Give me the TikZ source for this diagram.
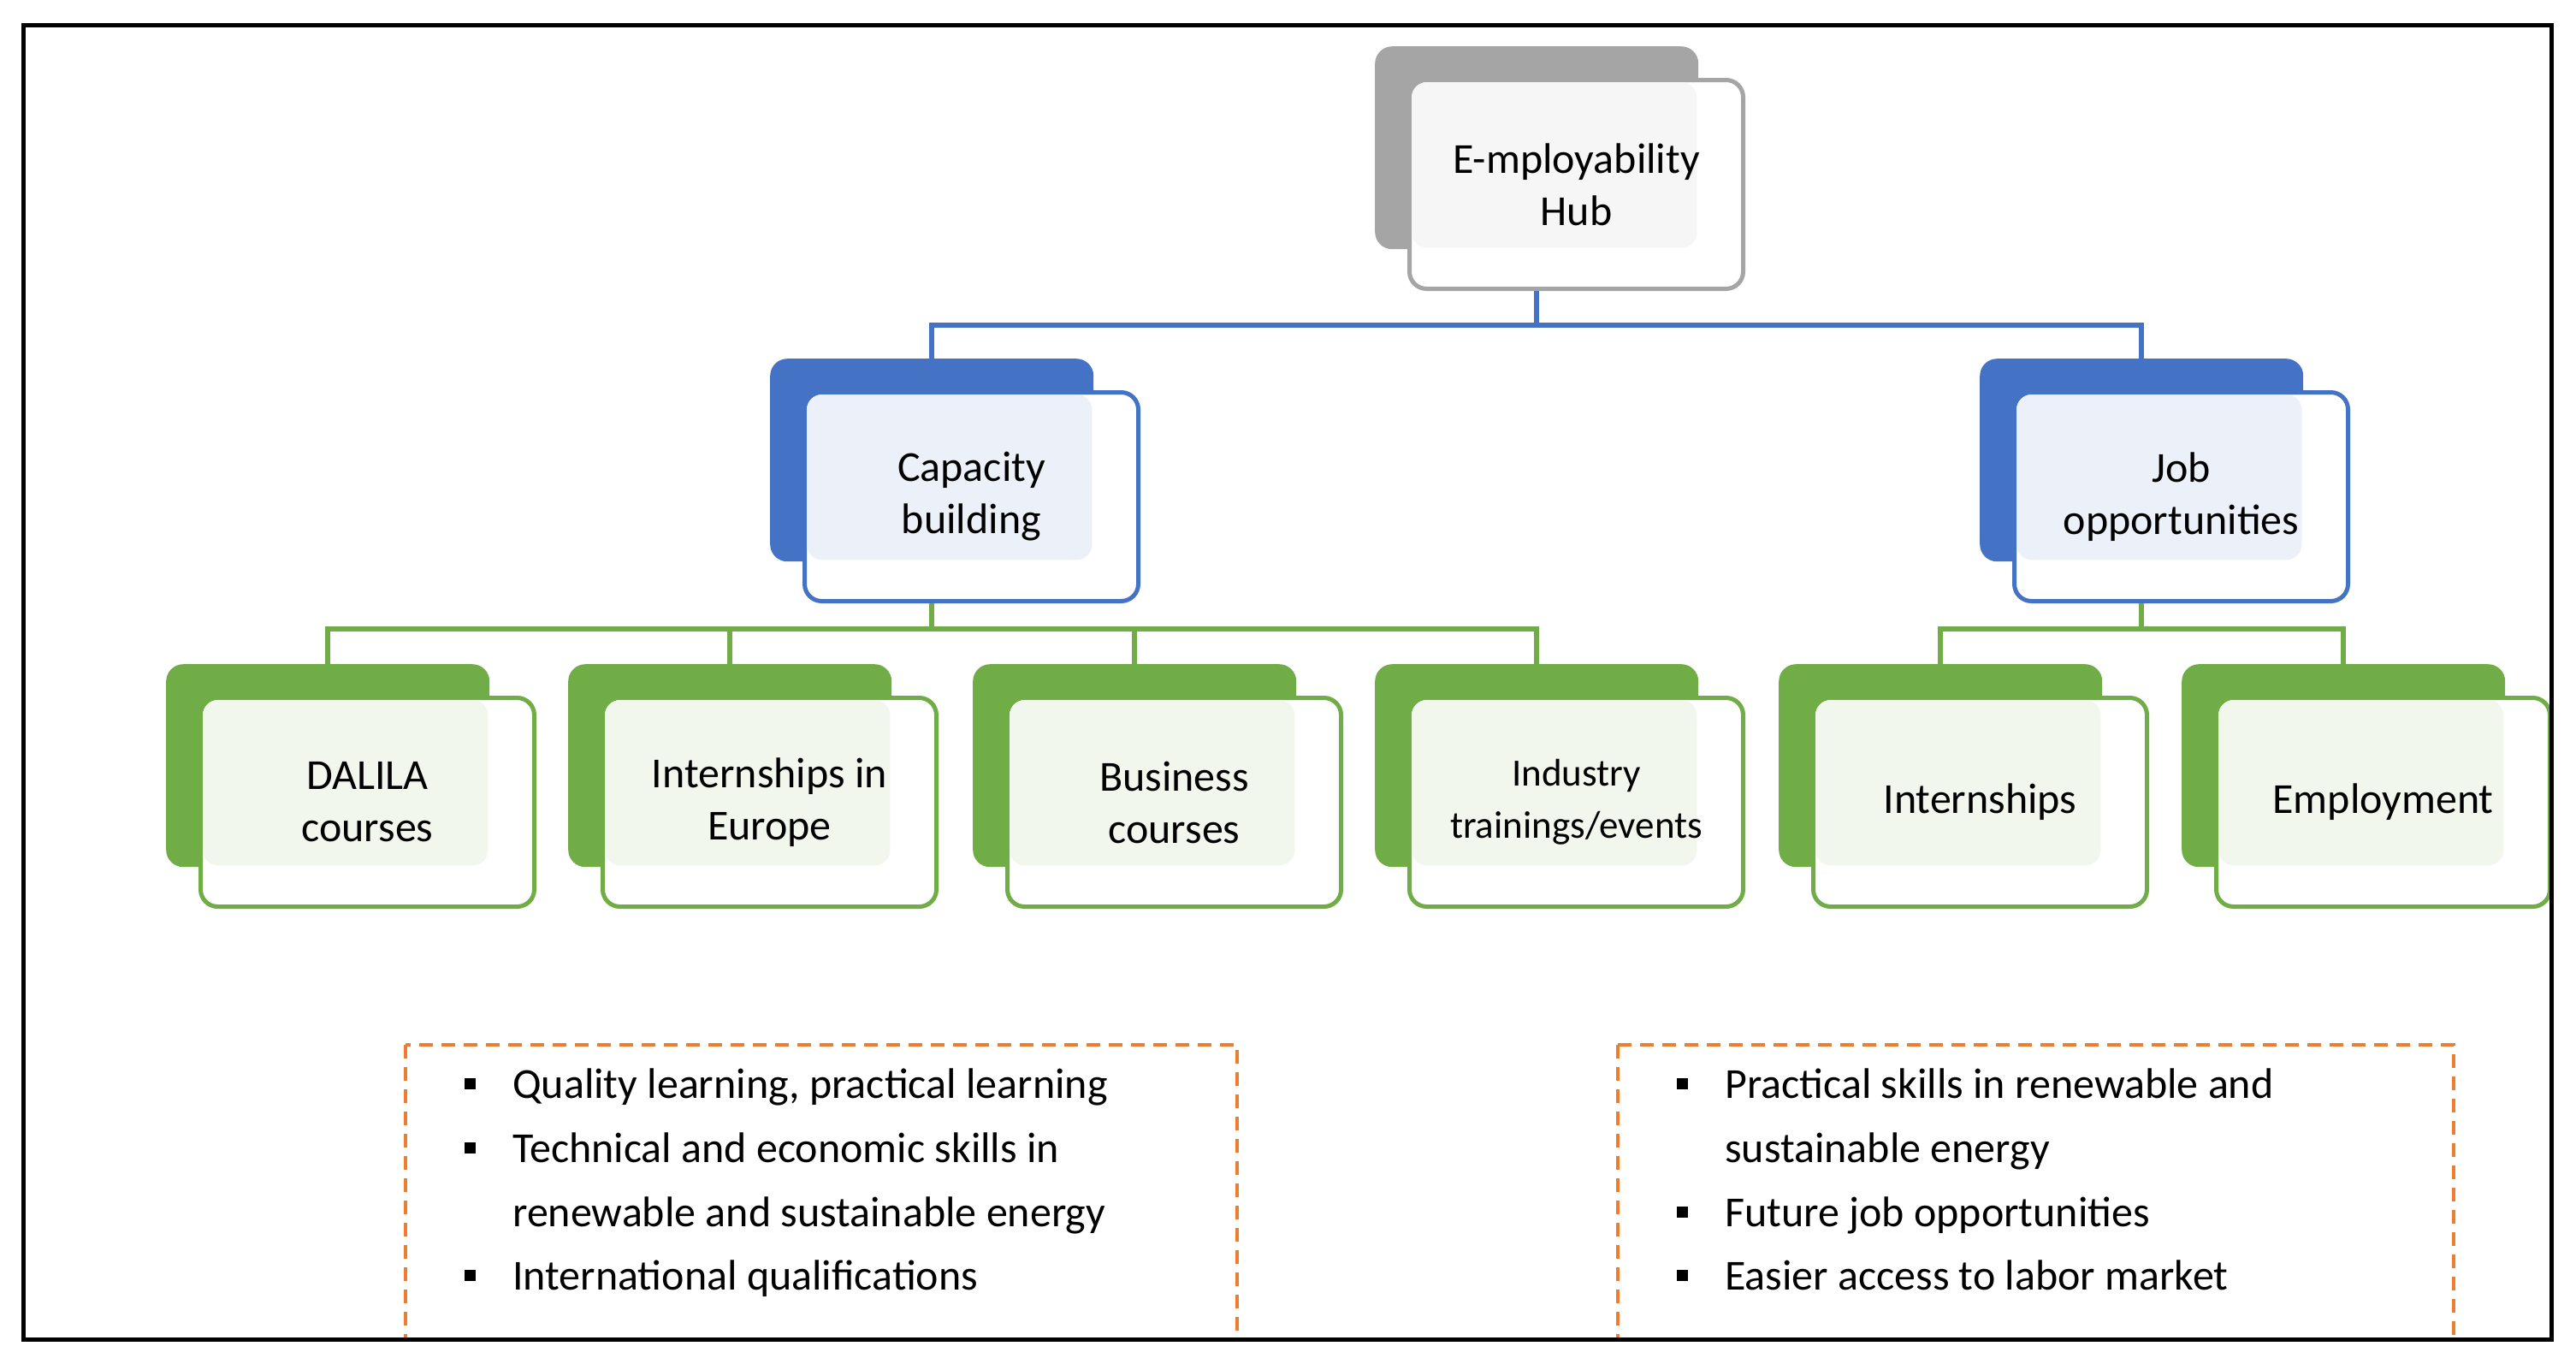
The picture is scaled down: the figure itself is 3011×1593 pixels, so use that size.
\documentclass[tikz,border=0pt]{standalone}
\usepackage{fontspec}
\setmainfont{Carlito}
\definecolor{cblue}{HTML}{4472C4}
\definecolor{cgreen}{HTML}{70AD47}
\definecolor{cgray}{HTML}{A5A5A5}
\definecolor{corange}{HTML}{ED7D31}
\tikzset{
 backbox/.style={fill=#1,rounded corners=20pt,minimum width=378pt,minimum height=237pt,anchor=north west,inner sep=0pt,draw=none},
 frontbox/.style={fill=white,draw=#1,line width=5pt,rounded corners=20pt,minimum width=390pt,minimum height=244pt,anchor=north west,inner sep=0pt},
 tint/.style={fill=#1!10,rounded corners=18pt},
 lbl/.style={font=\fontsize{50}{61}\selectfont,align=center,inner sep=0pt},
 conn/.style={draw=#1,line width=5.5pt},
 bul/.style={fill=black,minimum size=13pt,inner sep=0pt},
 btxt/.style={font=\fontsize{50}{75}\selectfont,anchor=base west,inner sep=0pt},
}
% #1 name, #2 x, #3 y, #4 colour, #5 text
\newcommand{\trio}[5]{%
 \node[backbox=#4] (#1b) at (#2pt,-#3pt) {};
 \node[frontbox=#4] (#1f) at (#2pt+38pt,-#3pt-37pt) {};
 \fill[tint=#4] ([shift={(5pt,-5pt)}]#1f.north west) rectangle ([shift={(-2pt,2pt)}]#1b.south east);
 \node[lbl] (#1t) at (#1f.center) {#5};
}
\begin{document}
\begin{tikzpicture}[x=1pt,y=1pt]
\useasboundingbox (0,0) rectangle (3011,-1593);
\trio{hub}{1607}{54}{cgray}{E-mployability\\Hub}
\trio{cap}{900}{419}{cblue}{Capacity\\building}
\trio{job}{2314}{419}{cblue}{Job\\opportunities}
\trio{dal}{194}{776}{cgreen}{DALILA\\courses}
\trio{int}{664}{776}{cgreen}{Internships in\\Europe}
\trio{bus}{1137}{776}{cgreen}{Business\\courses}
\trio{ind}{1607}{776}{cgreen}{{\fontsize{45}{58}\selectfont Industry}\\{\fontsize{45}{58}\selectfont trainings/events}}
\trio{ins}{2079}{776}{cgreen}{Internships}
\trio{emp}{2550}{776}{cgreen}{Employment}
\coordinate (h1) at (0,-380);
\coordinate (h2) at (0,-735);
\draw[conn=cblue] (hubf.south -| hubb.center) -- (h1 -| hubb.center) -| (capb.north);
\draw[conn=cblue] (h1 -| hubb.center) -| (jobb.north);
\draw[conn=cgreen] (capf.south -| capb.center) -- (h2 -| capb.center);
\foreach \n in {dal,int,bus,ind}{\draw[conn=cgreen] (h2 -| capb.center) -| (\n b.north);}
\draw[conn=cgreen] (jobf.south -| jobb.center) -- (h2 -| jobb.center);
\foreach \n in {ins,emp}{\draw[conn=cgreen] (h2 -| jobb.center) -| (\n b.north);}
\draw[corange,line width=4.5pt,dash pattern=on 16pt off 10pt] (474,-1221) rectangle (1446,-1565);
\draw[corange,line width=4.5pt,dash pattern=on 16pt off 10pt] (1891,-1221) rectangle (2868,-1565);
\node[bul] (b1) at (549,-1266) {}; \node[btxt] (t1) at (599,-1283) {Quality learning, practical learning};
\node[bul] (b2) at (549,-1341) {}; \node[btxt] (t2) at (599,-1358) {Technical and economic skills in};
\node[btxt] (t3) at (599,-1433) {renewable and sustainable energy};
\node[bul] (b4) at (549,-1490) {}; \node[btxt] (t4) at (599,-1507) {International qualifications};
\node[bul] (b5) at (1966,-1266) {}; \node[btxt] (t5) at (2016,-1283) {Practical skills in renewable and};
\node[btxt] (t6) at (2016,-1358) {sustainable energy};
\node[bul] (b7) at (1966,-1416) {}; \node[btxt] (t7) at (2016,-1433) {Future job opportunities};
\node[bul] (b8) at (1966,-1490) {}; \node[btxt] (t8) at (2016,-1507) {Easier access to labor market};
\draw[black,line width=5pt] (27,-29) rectangle (2982,-1565);
\end{tikzpicture}
\end{document}
